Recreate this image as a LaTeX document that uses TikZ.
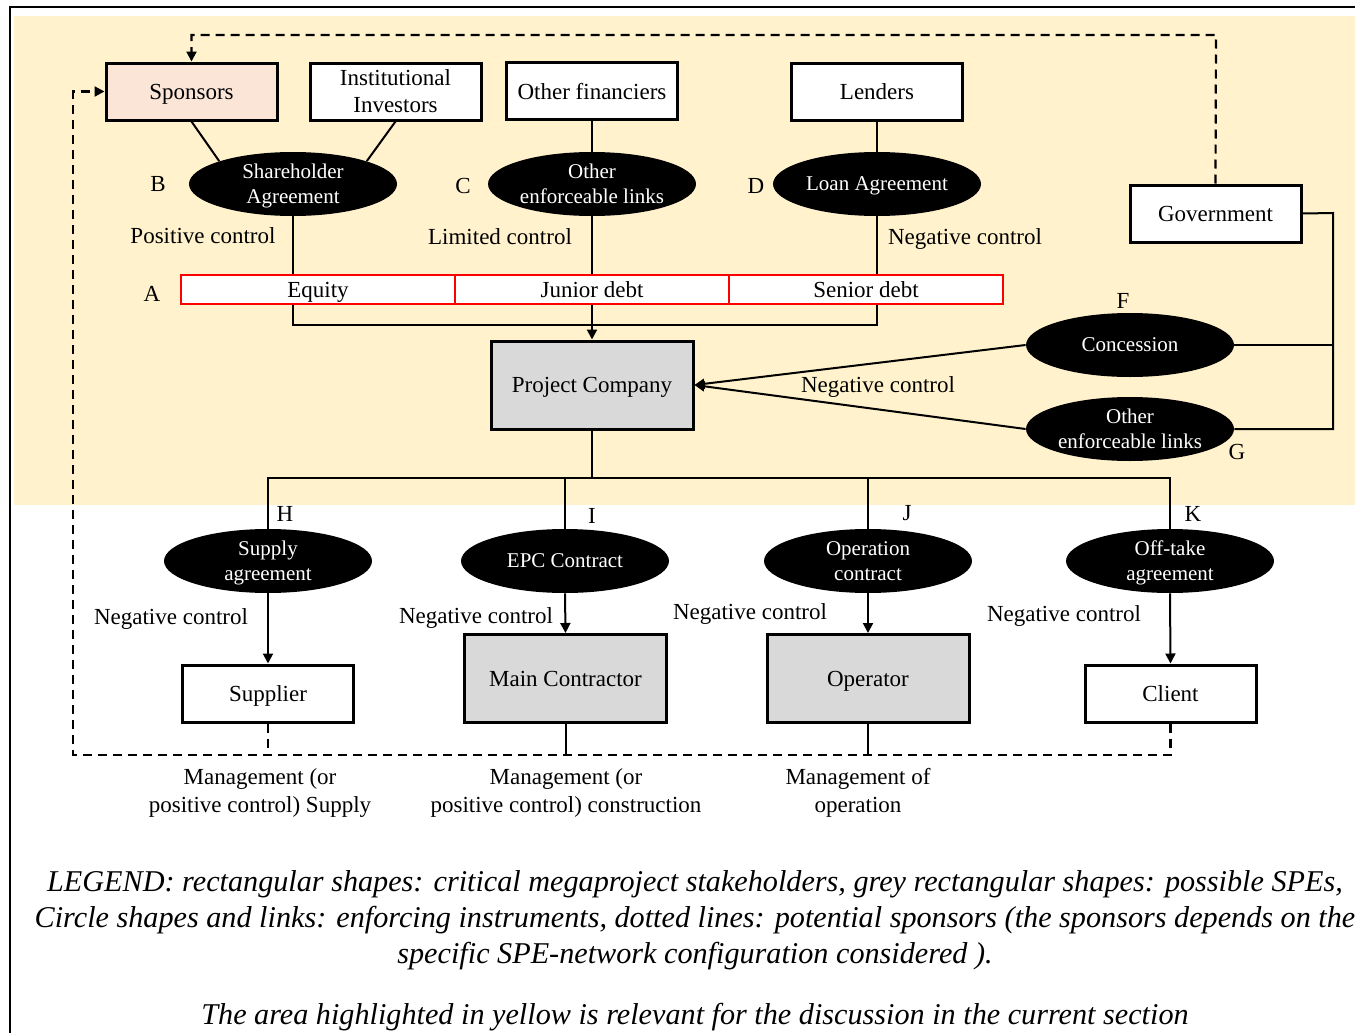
\documentclass[tikz,border=0pt]{standalone}
\usepackage{fontspec}
\setmainfont{Liberation Serif}
\usetikzlibrary{shapes.geometric,arrows.meta}
\definecolor{hilite}{HTML}{FFF2CC}
\definecolor{sponsorfill}{HTML}{FBE5D6}
\definecolor{spefill}{HTML}{D9D9D9}
\begin{document}
\begin{tikzpicture}[x=0.5pt,y=-0.5pt,
  txt/.style={font=\fontsize{11.5}{13.5}\selectfont},
  party/.style={draw,line width=1.5pt,fill=white,minimum width=85.5pt,minimum height=28.5pt,
    inner sep=0pt,align=center,text depth=-0.6pt,txt},
  spe/.style={party,fill=spefill,minimum width=101pt,minimum height=44pt},
  instr/.style={ellipse,fill=black,text=white,minimum width=104pt,minimum height=32pt,
    inner sep=0pt,align=center,text depth=-0.6pt,font=\fontsize{10.5}{12.5}\selectfont},
  tranche/.style={draw=red,line width=0.75pt,fill=white,minimum width=137pt,
    minimum height=14.5pt,inner sep=0pt,text depth=-0.3pt,txt},
  tag/.style={txt,inner sep=0pt},
  link/.style={line width=1pt},
  flow/.style={link,-{Triangle[length=5pt,width=5pt]}},
  potential/.style={line width=1.1pt,dash pattern=on 4.5pt off 3pt},
  potflow/.style={potential,-{Triangle[length=5pt,width=5pt]}},
]
\useasboundingbox (0,0) rectangle (1355,1033);

% highlighted area and frame
\fill[hilite] (14,16) rectangle (1355,505);
\draw[line width=1pt] (10,1040) -- (10,7) -- (1360,7);

% stakeholders
\node[party,fill=sponsorfill] (sponsors) at (191.5,91.5) {Sponsors};
\node[party] (inst) at (395.5,91.5) {Institutional\\Investors};
\node[party] (otherfin) at (592,91) {Other financiers};
\node[party] (lenders) at (877,91.5) {Lenders};
\node[party] (gov) at (1215.5,213.5) {Government};

% enforcing instruments (top)
\node[instr] (sha) at (293,184) {Shareholder\\Agreement};
\node[instr] (oel) at (592,184) {Other\\enforceable links};
\node[instr] (loan) at (877,184) {Loan Agreement};
\node[instr] (conc) at (1130,345) {Concession};
\node[instr] (oelg) at (1130,429) {Other\\enforceable links};

% capital structure
\node[tranche] (equity) at (318,289.5) {Equity};
\node[tranche] (junior) at (592,289.5) {Junior debt};
\node[tranche] (senior) at (866,289.5) {Senior debt};

% project company
\node[spe] (pc) at (592,385) {Project Company};

% enforcing instruments (bottom)
\node[instr] (supag) at (268,561) {Supply\\agreement};
\node[instr] (epc) at (565,561) {EPC Contract};
\node[instr] (opcon) at (868,561) {Operation\\contract};
\node[instr] (offtake) at (1170,561) {Off-take\\agreement};

% contracting parties
\node[party] (supplier) at (268,693.5) {Supplier};
\node[spe] (maincon) at (565.5,678.5) {Main Contractor};
\node[spe] (operator) at (868,678.5) {Operator};
\node[party] (client) at (1170.5,693.5) {Client};

% letters
\node[tag] (lA) at (152,294) {A};
\node[tag] (lB) at (158,184) {B};
\node[tag] (lC) at (463,186) {C};
\node[tag] (lD) at (756,186) {D};
\node[tag] (lF) at (1123,301) {F};
\node[tag] (lG) at (1237,452) {G};
\node[tag] (lH) at (285,514) {H};
\node[tag] (lI) at (592,516) {I};
\node[tag] (lJ) at (907,513) {J};
\node[tag] (lK) at (1193,514) {K};

% control labels
\node[tag] (pos) at (203,236) {Positive control};
\node[tag] (lim) at (500,237) {Limited control};
\node[tag] (negD) at (965,239) {Negative control};
\node[tag] (negPC) at (878,387) {Negative control};
\node[tag] (negH) at (171,619) {Negative control};
\node[tag] (negI) at (476,618) {Negative control};
\node[tag] (negJ) at (750,614) {Negative control};
\node[tag] (negK) at (1064,616) {Negative control};

% management labels
\node[tag,align=center,font=\fontsize{11.5}{14}\selectfont] (mgH) at (260,793) {Management (or\\positive control) Supply};
\node[tag,align=center,font=\fontsize{11.5}{14}\selectfont] (mgI) at (566,793) {Management (or\\positive control) construction};
\node[tag,align=center,font=\fontsize{11.5}{14}\selectfont] (mgJ) at (858,793) {Management of\\operation};

% legend
\node[inner sep=0pt,align=center,font=\fontsize{15.1}{18}\itshape] (legend) at (695,920)
  {LEGEND: rectangular shapes: critical megaproject stakeholders, grey rectangular shapes: possible SPEs,\\
   Circle shapes and links: enforcing instruments, dotted lines: potential sponsors (the sponsors depends on the\\
   specific SPE-network configuration considered ).};
\node[inner sep=0pt,font=\fontsize{15.1}{18}\itshape] (note) at (695,1017)
  {The area highlighted in yellow is relevant for the discussion in the current section};

% connectors: equity side
\draw[link] (sponsors.south) -- (sha.north west);
\draw[link] (inst.south) -- (sha.north east);
\draw[link] (otherfin.south) -- (oel.north);
\draw[link] (lenders.south) -- (loan.north);
\draw[link] (sha.south) -- (sha.south |- equity.north);
\draw[link] (oel.south) -- (junior.north);
\draw[link] (loan.south) -- (loan.south |- senior.north);
\coordinate (fund) at (592,325);
\draw[link] (sha.south |- equity.south) |- (fund);
\draw[link] (loan.south |- senior.south) |- (fund);
\draw[flow] (junior.south) -- (pc.north);

% government side
\coordinate (govbus) at (1333,213);
\draw[link] (gov.east) -- (govbus) |- (oelg.east);
\draw[link] (conc.east) -- (conc.east -| govbus);
\draw[flow] (conc.west) -- (pc.east);
\draw[flow] (oelg.west) -- (pc.east);

% project company to contracts
\coordinate (bus) at (592,478);
\draw[link] (pc.south) -- (bus);
\draw[link] (supag.north) -- (supag.north |- bus) -- (offtake.north |- bus) -- (offtake.north);
\draw[link] (epc.north) -- (epc.north |- bus);
\draw[link] (opcon.north) -- (opcon.north |- bus);
\draw[flow] (supag.south) -- (supplier.north);
\draw[flow] (epc.south) -- (maincon.north);
\draw[flow] (opcon.south) -- (operator.north);
\draw[flow] (offtake.south) -- (client.north);

% potential sponsors
\coordinate (topturn) at (1216,35);
\coordinate (loopSW) at (73,755);
\draw[potflow] (gov.north) -- (topturn) -| (sponsors.north);
\draw[potflow] (client.south) -- (client.south |- loopSW) -- (loopSW) |- (sponsors.west);
\draw[potential] (supplier.south) -- (supplier.south |- loopSW);
\draw[link] (maincon.south) -- (maincon.south |- loopSW);
\draw[link] (operator.south) -- (operator.south |- loopSW);
\end{tikzpicture}
\end{document}
